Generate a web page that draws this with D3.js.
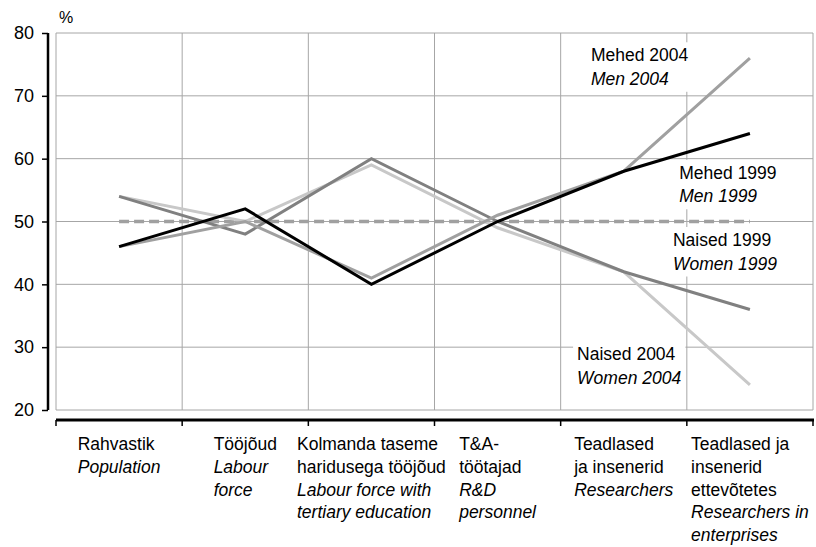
<!DOCTYPE html>
<html>
<head>
<meta charset="utf-8">
<script src="https://cdn.jsdelivr.net/npm/d3@7"></script>
<style>
  body { margin: 0; background: #fff; }
  text { font-family: "Liberation Sans", Arial, sans-serif; fill: #000; }
</style>
</head>
<body>
<div id="chart"></div>
<script>
// Categories (Estonian line(s), English line(s) in italics)
const categories = ['pop', 'lab', 'ter', 'rd', 'res', 'ent'];
const catLabelsEt = [
  ['Rahvastik'],
  ['Tööjõud'],
  ['Kolmanda taseme', 'haridusega tööjõud'],
  ['T&A-', 'töötajad'],
  ['Teadlased', 'ja insenerid'],
  ['Teadlased ja', 'insenerid', 'ettevõtetes']
];
const catLabelsEn = [
  ['Population'],
  ['Labour', 'force'],
  ['Labour force with', 'tertiary education'],
  ['R&D', 'personnel'],
  ['Researchers'],
  ['Researchers in', 'enterprises']
];

// Series values, %
const men1999 = [46, 52, 40, 50, 58, 64];
const men2004 = [46, 50, 41, 51, 58, 76];
const women1999 = [54, 48, 60, 50, 42, 36];
const women2004 = [54, 50, 59, 49, 42, 24];
const parity = [50, 50, 50, 50, 50, 50];

const yTicks = [20, 30, 40, 50, 60, 70, 80];

// Annotations: position in category units (0..6) and value units
const annotations = [
  { et: 'Mehed 2004', en: 'Men 2004', cat: 4.24, val: 75.5 },
  { et: 'Mehed 1999', en: 'Men 1999', cat: 4.94, val: 56.8 },
  { et: 'Naised 1999', en: 'Women 1999', cat: 4.89, val: 46.1 },
  { et: 'Naised 2004', en: 'Women 2004', cat: 4.13, val: 27.9 }
];

// Dimensions
const W = 816, H = 547;
const margin = { top: 33, right: 3, bottom: 137, left: 56 };
const width = W - margin.left - margin.right;
const height = H - margin.top - margin.bottom;

const svg = d3.select('#chart').append('svg')
  .attr('width', W)
  .attr('height', H);
const g = svg.append('g')
  .attr('transform', `translate(${margin.left}, ${margin.top})`);

const xScale = d3.scaleBand().domain(categories).range([0, width]);
const xCat = d3.scaleLinear().domain([0, categories.length]).range([0, width]);
const yScale = d3.scaleLinear().domain([20, 80]).range([height, 0]);
const xMid = (i) => xScale(categories[i]) + xScale.bandwidth() / 2;

const gridColor = '#a6a6a6';

// Grid: horizontal lines
g.append('g').selectAll('line')
  .data(yTicks)
  .join('line')
  .attr('x1', 0).attr('x2', width)
  .attr('y1', d => yScale(d)).attr('y2', d => yScale(d))
  .attr('stroke', gridColor).attr('stroke-width', 1);

// Grid: vertical lines at category boundaries
g.append('g').selectAll('line')
  .data(d3.range(categories.length + 1))
  .join('line')
  .attr('x1', d => xCat(d)).attr('x2', d => xCat(d))
  .attr('y1', 0).attr('y2', height)
  .attr('stroke', gridColor).attr('stroke-width', 1);

// Y axis (offset to the left of the plot area)
const yAxis = d3.axisLeft(yScale).tickValues(yTicks).tickSize(6).tickPadding(8);
const yG = g.append('g')
  .attr('transform', 'translate(-8, 0)')
  .call(yAxis);
yG.select('.domain').attr('stroke', '#000').attr('stroke-width', 2.5)
  .attr('d', `M0,0V${height}`);
yG.selectAll('.tick line').attr('stroke', '#000').attr('stroke-width', 1.5);
yG.selectAll('.tick text').style('font-size', '18px').attr('fill', '#000');

g.append('text')
  .attr('x', 3).attr('y', -10)
  .style('font-size', '16px')
  .text('%');

// X axis (below the plot area)
const xAxisG = g.append('g').attr('transform', `translate(0, ${height + 10})`);
xAxisG.append('line')
  .attr('x1', 0).attr('x2', width + 1)
  .attr('y1', 0).attr('y2', 0)
  .attr('stroke', '#000').attr('stroke-width', 3);
xAxisG.selectAll('.xtick')
  .data(d3.range(categories.length + 1))
  .join('line')
  .attr('class', 'xtick')
  .attr('x1', d => xCat(d)).attr('x2', d => xCat(d))
  .attr('y1', 0).attr('y2', 6)
  .attr('stroke', '#000').attr('stroke-width', 1.5);

// Category labels: left-aligned block centred on the category
const lineH = 22.8;
categories.forEach((c, i) => {
  const lines = catLabelsEt[i].map(t => ({ t, it: false }))
    .concat(catLabelsEn[i].map(t => ({ t, it: true })));
  const block = xAxisG.append('g');
  const texts = block.selectAll('text')
    .data(lines)
    .join('text')
    .attr('y', (d, k) => 30 + k * lineH)
    .style('font-size', '17.5px')
    .style('font-style', d => d.it ? 'italic' : 'normal')
    .text(d => d.t);
  let maxW = 0;
  texts.each(function () { maxW = Math.max(maxW, this.getComputedTextLength()); });
  block.attr('transform', `translate(${xMid(i) - maxW / 2}, 0)`);
});

// Annotation layers: white boxes under the lines, text on top
const boxG = g.append('g');
const lineG = g.append('g');
const annG = g.append('g');

annotations.forEach(a => {
  const grp = annG.append('g')
    .attr('transform', `translate(${xCat(a.cat)}, ${yScale(a.val)})`);
  grp.append('text').style('font-size', '17.5px').text(a.et);
  grp.append('text').attr('y', 23.5).style('font-size', '17.5px')
    .style('font-style', 'italic').text(a.en);
  const bb = grp.node().getBBox();
  boxG.append('rect')
    .attr('x', xCat(a.cat) + bb.x - 4)
    .attr('y', yScale(a.val) + bb.y - 3)
    .attr('width', bb.width + 8)
    .attr('height', bb.height + 6)
    .attr('fill', '#fff');
});

// Lines
const line = d3.line()
  .x((d, i) => xMid(i))
  .y(d => yScale(d));

const series = [
  { values: parity, color: '#a0a0a0', width: 3.5, dash: '10,5' },
  { values: women2004, color: '#c8c8c8', width: 3, dash: null },
  { values: women1999, color: '#808080', width: 3, dash: null },
  { values: men2004, color: '#a0a0a0', width: 3, dash: null },
  { values: men1999, color: '#000000', width: 3, dash: null }
];

lineG.selectAll('path')
  .data(series)
  .join('path')
  .attr('d', d => line(d.values))
  .attr('fill', 'none')
  .attr('stroke', d => d.color)
  .attr('stroke-width', d => d.width)
  .attr('stroke-dasharray', d => d.dash)
  .attr('stroke-linejoin', 'miter');
</script>
</body>
</html>
